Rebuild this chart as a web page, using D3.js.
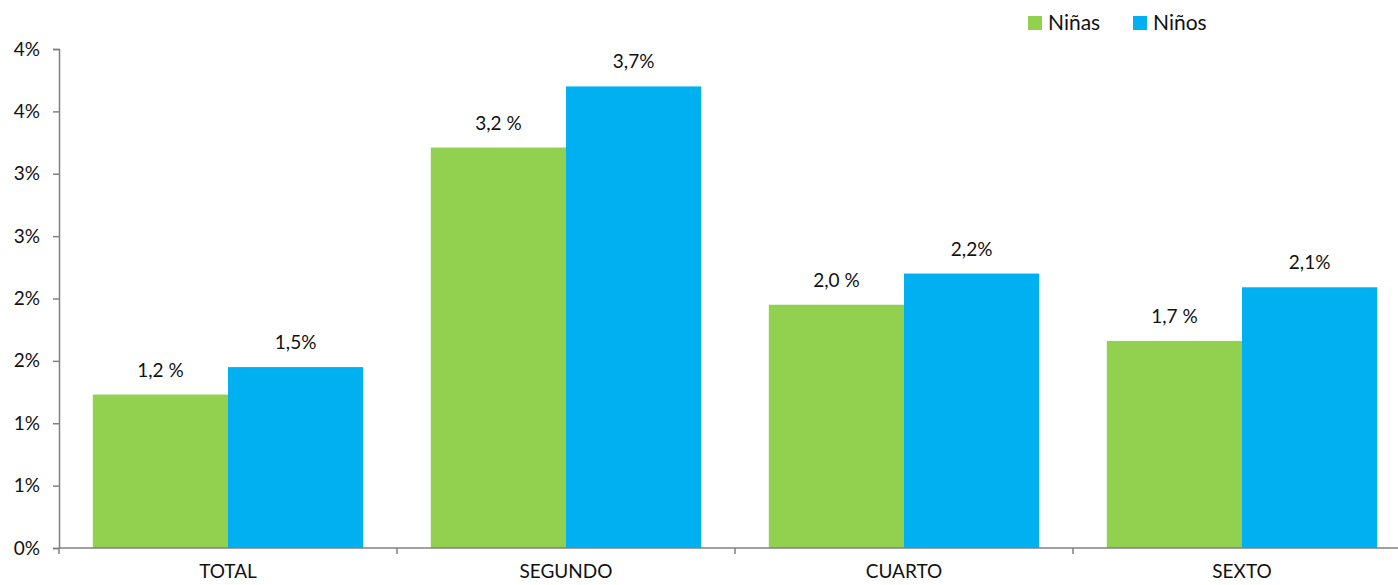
<!DOCTYPE html>
<html><head><meta charset="utf-8">
<script src="https://cdn.jsdelivr.net/npm/d3@7/dist/d3.min.js"></script>
<style>body{margin:0;background:#fff}svg{display:block}text{font-family:Lato,"Open Sans",sans-serif;fill:#111}</style>
</head><body><svg id="c" width="1398" height="585"></svg>
<script>
const categories = ["TOTAL", "SEGUNDO", "CUARTO", "SEXTO"];
const seriesNames = ["Niñas", "Niños"];
const ninas = [1.23, 3.21, 1.95, 1.66];
const ninos = [1.45, 3.70, 2.20, 2.09];
const ninasLabels = ["1,2 %", "3,2 %", "2,0 %", "1,7 %"];
const ninosLabels = ["1,5%", "3,7%", "2,2%", "2,1%"];
const yTicks = [0, 0.5, 1, 1.5, 2, 2.5, 3, 3.5, 4];
const colors = ["#92D050", "#00B0F0"];

const svg = d3.select("#c");
const x = d3.scaleBand().domain(categories).range([59, 1411]);
const y = d3.scaleLinear().domain([0, 4]).range([548, 49]);
const series = [ninas, ninos];
const labels = [ninasLabels, ninosLabels];

// bars
series.forEach((vals, s) => {
  const g = svg.append("g");
  const inner = d3.scaleBand().domain([0,1]).range([0, x.bandwidth()*0.8]);
  g.selectAll("rect").data(vals).join("rect")
    .attr("x", (d,i) => x(categories[i]) + x.bandwidth()*0.1 + inner(s))
    .attr("y", d => y(d))
    .attr("width", inner.bandwidth())
    .attr("height", d => y(0) - y(d))
    .attr("fill", colors[s]);
  g.selectAll("text").data(vals).join("text")
    .attr("x", (d,i) => x(categories[i]) + x.bandwidth()*0.1 + inner(s) + inner.bandwidth()/2)
    .attr("y", d => y(d) - 18)
    .attr("text-anchor", "middle")
    .style("font-size", "19px")
    .text((d,i) => labels[s][i]);
});

// y axis
const ya = svg.append("g").attr("transform", "translate(59,0)")
  .call(d3.axisLeft(y).tickValues(yTicks).tickSize(6).tickPadding(13)
    .tickFormat(d => Math.round(d + 1e-9) + "%"));
ya.selectAll("path,line").attr("stroke", "#808080").attr("stroke-width", 1.5);
ya.selectAll("text").style("font-size", "19px").style("font-family", "Lato").attr("fill", "#111");

// x axis
const xa = svg.append("g").attr("transform", "translate(0,548)")
  .call(d3.axisBottom(x).tickSize(0).tickPadding(17));
xa.select("path").attr("stroke", "#808080").attr("stroke-width", 1.5).attr("d", "M59,0H1411");
xa.selectAll("text").style("font-size", "19px").style("font-family", "Lato").attr("fill", "#111");
// category boundary ticks
const bounds = categories.map(c => x(c)).concat([x.range()[1]]);
svg.append("g").selectAll("line").data(bounds).join("line")
  .attr("x1", d => d).attr("x2", d => d).attr("y1", 548).attr("y2", 554)
  .attr("stroke", "#808080").attr("stroke-width", 1.5);

// legend
const leg = svg.append("g");
const legX = [1028, 1133];
seriesNames.forEach((n, i) => {
  leg.append("rect").attr("x", legX[i]).attr("y", 16).attr("width", 14).attr("height", 14).attr("fill", colors[i]);
  leg.append("text").attr("x", legX[i] + 20).attr("y", 30).style("font-size", "21px").text(n);
});
</script></body></html>
